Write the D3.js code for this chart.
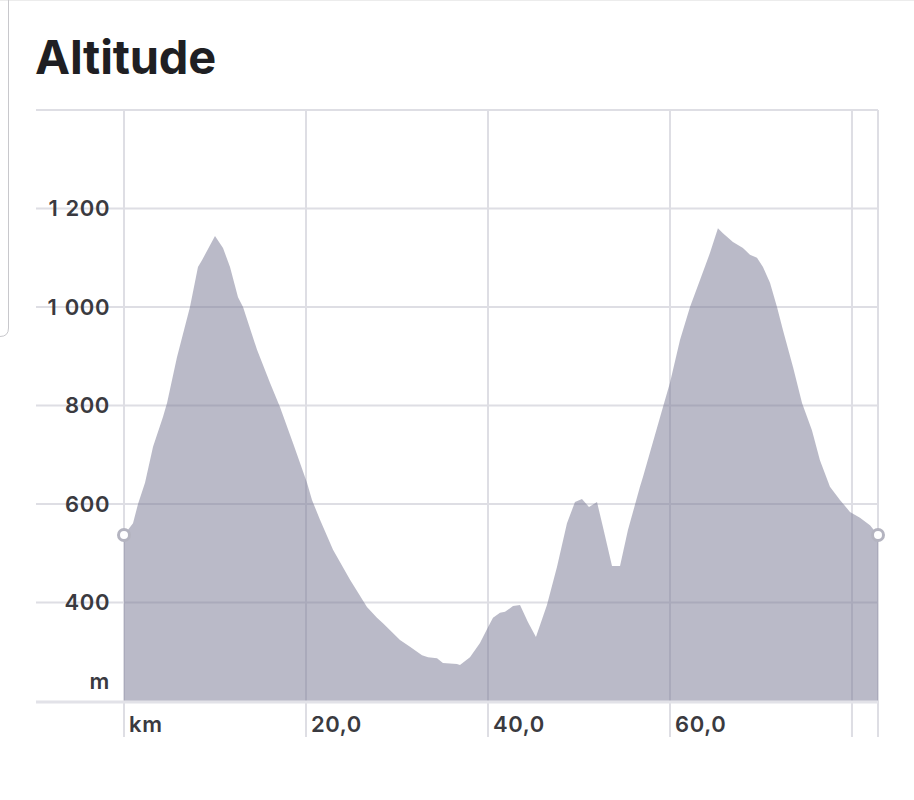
<!DOCTYPE html>
<html>
<head>
<meta charset="utf-8">
<script src="https://cdn.jsdelivr.net/npm/d3@7"></script>
<style>
  html, body { margin: 0; padding: 0; background: #fff; }
  svg { display: block; }
  text { font-family: Inter, "Noto Sans", sans-serif; }
</style>
</head>
<body>
<svg id="chart" width="914" height="800"></svg>
<script>
// ---- data ----
const distanceKm = [0, 0.99, 1.54, 2.31, 3.19, 4.29, 4.73, 5.82, 7.25, 8.13, 8.57, 10.0, 10.88, 11.65, 12.53, 13.08, 14.62, 16.04, 17.14, 18.57, 20.11, 20.66, 21.54, 22.97, 24.84, 26.70, 27.80, 28.46, 30.33, 31.43, 32.75, 33.41, 34.40, 35.05, 36.59, 36.92, 38.02, 39.12, 40.0, 40.55, 41.32, 41.87, 42.75, 43.52, 44.40, 45.27, 46.48, 47.58, 48.68, 49.56, 50.33, 51.10, 51.98, 52.64, 53.63, 54.51, 55.38, 56.70, 57.03, 59.23, 60.0, 61.10, 62.20, 63.30, 64.40, 65.27, 65.82, 66.92, 68.02, 68.79, 69.56, 70.22, 70.99, 71.76, 72.42, 73.52, 74.51, 75.60, 76.48, 77.58, 78.68, 79.78, 80.88, 81.98, 82.86];
const altitudeM = [537, 561, 600, 643, 716, 777, 805, 898, 1000, 1081, 1095, 1144, 1120, 1081, 1020, 1000, 913, 846, 797, 724, 643, 608, 568, 507, 446, 391, 369, 358, 324, 310, 293, 289, 287, 277, 275, 273, 289, 318, 350, 369, 379, 381, 393, 395, 360, 330, 395, 472, 561, 604, 610, 594, 604, 553, 474, 474, 547, 635, 655, 797, 846, 933, 1000, 1055, 1110, 1160, 1150, 1132, 1120, 1106, 1100, 1081, 1049, 1000, 953, 878, 805, 750, 689, 635, 608, 584, 572, 557, 537];
const totalKm = 82.86;
const xTicks = [0, 20, 40, 60, 80];
const xTickLabels = ["km", "20,0", "40,0", "60,0", ""];
const yTicks = [200, 400, 600, 800, 1000, 1200];
const yTickLabels = ["m", "400", "600", "800", "1 000", "1 200"];
const yMin = 200, yMax = 1400;
const title = "Altitude";

// ---- layout ----
const svg = d3.select("#chart");
const x = d3.scaleLinear().domain([0, totalKm]).range([124, 878]);
const y = d3.scaleLinear().domain([yMin, yMax]).range([701, 110]);
const gridLeft = 36, gridBottom = 737;
const gridColor = "#dedee4";
const labelColor = "#3a3a40";

// card border remnants
svg.append("line").attr("x1", 0).attr("x2", 914).attr("y1", 0.5).attr("y2", 0.5)
  .attr("stroke", "#ececec").attr("stroke-width", 1);
svg.append("path").attr("d", "M8.5,0 L8.5,328 Q8.5,336.5 0,336.5")
  .attr("fill", "none").attr("stroke", "#c8c8cc").attr("stroke-width", 1);

// title
svg.append("text").attr("x", 35).attr("y", 74)
  .attr("font-size", 47).attr("font-weight", 700).attr("fill", "#1f1f23")
  .attr("letter-spacing", -0.2)
  .text(title);

// horizontal grid lines
const hLines = yTicks.filter(d => d > yMin).concat([yMax]);
svg.append("g").selectAll("line").data(hLines).join("line")
  .attr("x1", gridLeft).attr("x2", x(totalKm))
  .attr("y1", d => y(d)).attr("y2", d => y(d))
  .attr("stroke", gridColor).attr("stroke-width", 2);

// vertical grid lines
svg.append("g").selectAll("line").data(xTicks.concat([totalKm])).join("line")
  .attr("x1", d => x(d)).attr("x2", d => x(d))
  .attr("y1", y(yMax)).attr("y2", gridBottom)
  .attr("stroke", gridColor).attr("stroke-width", 2);

// area
const area = d3.area()
  .x((d, i) => x(distanceKm[i]))
  .y0(y(yMin))
  .y1(d => y(d))
  .curve(d3.curveLinear);
svg.append("path").datum(altitudeM)
  .attr("d", area)
  .attr("fill", "#7a7a96").attr("fill-opacity", 0.52);

// bottom axis line
svg.append("line").attr("x1", gridLeft).attr("x2", x(totalKm))
  .attr("y1", y(yMin) + 1).attr("y2", y(yMin) + 1)
  .attr("stroke", "#e2e2e8").attr("stroke-width", 3);

// y labels
svg.append("g").selectAll("text").data(yTicks).join("text")
  .attr("x", 110)
  .attr("y", d => d === yMin ? y(d) - 20 : y(d))
  .attr("dy", "0.36em")
  .attr("text-anchor", "end")
  .attr("font-size", 22).attr("font-weight", 600).attr("fill", labelColor)
  .attr("letter-spacing", 0.6)
  .attr("word-spacing", 1)
  .text((d, i) => yTickLabels[i]);

// x labels
svg.append("g").selectAll("text").data(xTicks).join("text")
  .attr("x", d => x(d) + 5)
  .attr("y", 732)
  .attr("font-size", 22).attr("font-weight", 600).attr("fill", labelColor)
  .attr("letter-spacing", 0.6)
  .text((d, i) => xTickLabels[i]);

// endpoint markers
const ends = [0, distanceKm.length - 1];
svg.append("g").selectAll("circle").data(ends).join("circle")
  .attr("cx", i => x(distanceKm[i])).attr("cy", i => y(altitudeM[i]))
  .attr("r", 5.5)
  .attr("fill", "#fff").attr("stroke", "#b4b4c0").attr("stroke-width", 3);
</script>
</body>
</html>
